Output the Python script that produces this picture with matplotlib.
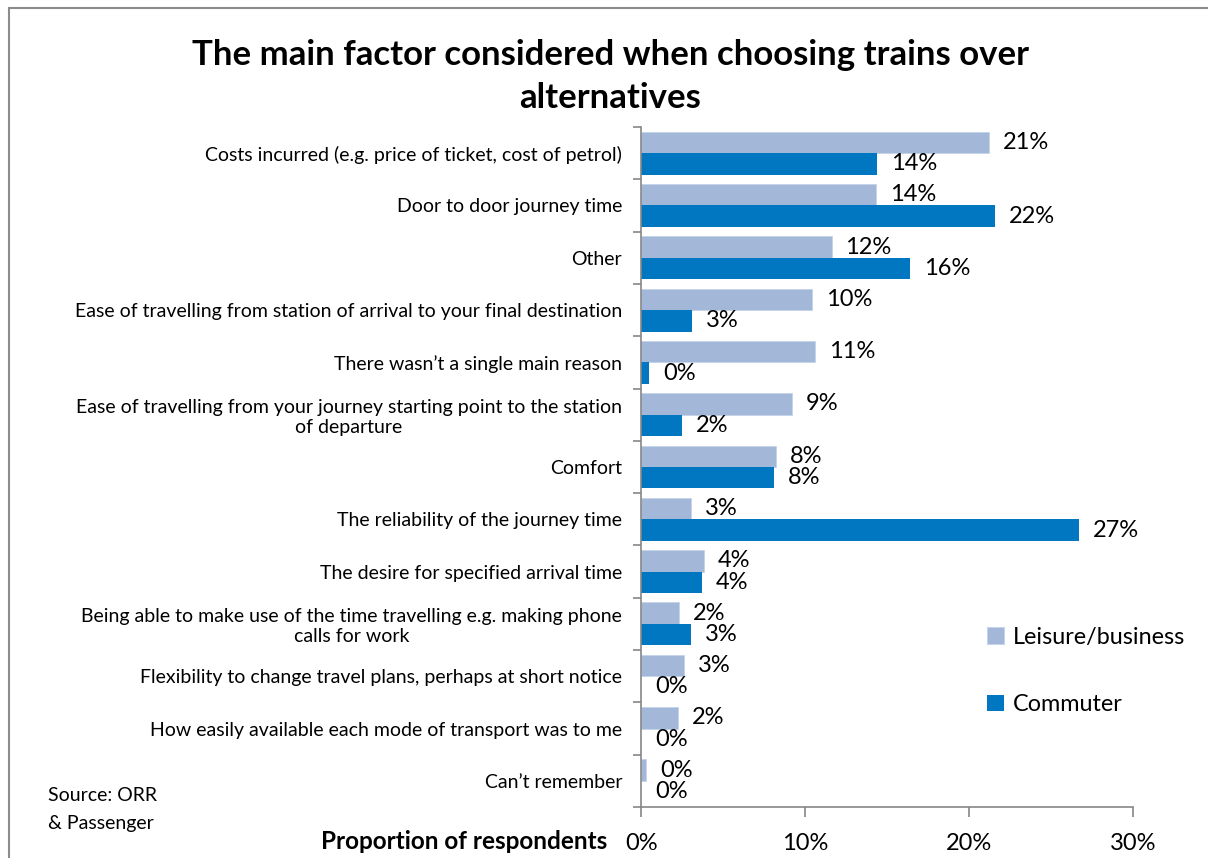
import matplotlib
matplotlib.use("Agg")
import matplotlib.pyplot as plt
from matplotlib.patches import Rectangle
import numpy as np

plt.rcParams['font.family'] = ['Lato', 'DejaVu Sans']

categories = [
    "Costs incurred (e.g. price of ticket, cost of petrol)",
    "Door to door journey time",
    "Other",
    "Ease of travelling from station of arrival to your final destination",
    "There wasn\u2019t a single main reason",
    "Ease of travelling from your journey starting point to the station\nof departure",
    "Comfort",
    "The reliability of the journey time",
    "The desire for specified arrival time",
    "Being able to make use of the time travelling e.g. making phone\ncalls for work",
    "Flexibility to change travel plans, perhaps at short notice",
    "How easily available each mode of transport was to me",
    "Can\u2019t remember",
]
leisure = [21.2, 14.3, 11.6, 10.4, 10.6, 9.2, 8.2, 3.0, 3.8, 2.3, 2.6, 2.2, 0.3]
commuter = [14.4, 21.6, 16.4, 3.1, 0.45, 2.5, 8.1, 26.7, 3.7, 3.0, 0.0, 0.0, 0.0]
series_names = ["Leisure/business", "Commuter"]
xticks = [0, 10, 20, 30]

c_leis = "#A3B7D9"
c_comm = "#0077C0"
axis_col = "#868686"

fig = plt.figure(figsize=(12.08, 8.58), dpi=100)
ax = fig.add_axes([0.531, 0.0594, 0.407, 0.7926])

n = len(categories)
y = np.arange(n)
h = 0.41
b1 = ax.barh(y - h / 2, leisure, height=h, color=c_leis, edgecolor="#C5D3EA", linewidth=0.6,
             label=series_names[0])
b2 = ax.barh(y + h / 2, commuter, height=h, color=c_comm, label=series_names[1])

off = 0.85
for yi, v in zip(y, leisure):
    ax.text(v + off, yi - h / 2, f"{v:.0f}%", va="center", ha="left", fontsize=17)
for yi, v in zip(y, commuter):
    ax.text(v + off, yi + h / 2, f"{v:.0f}%", va="center", ha="left", fontsize=17)

ax.set_xlim(0, 30)
ax.set_ylim(n - 0.5, -0.5)
ax.set_xticks(xticks)
ax.set_xticklabels([f"{t}%" for t in xticks], fontsize=17)
ax.tick_params(axis="x", length=7, color=axis_col, pad=12, width=1.2)

# category ticks sit between groups, labels at group centres
ax.set_yticks(np.arange(-0.5, n, 1.0))
ax.set_yticklabels([])
ax.set_yticks(y, minor=True)
ax.set_yticklabels(categories, minor=True, fontsize=14, multialignment="center")
ax.tick_params(axis="y", which="major", length=6, color=axis_col, width=1.2)
ax.tick_params(axis="y", which="minor", length=0, pad=14)

for s in ["top", "right"]:
    ax.spines[s].set_visible(False)
for s in ["left", "bottom"]:
    ax.spines[s].set_color(axis_col)
    ax.spines[s].set_linewidth(1.2)

fig.text(0.505, 0.911, "The main factor considered when choosing trains over\nalternatives",
         ha="center", va="center", fontsize=25, fontweight="bold", linespacing=1.4)

fig.text(0.503, 0.019, "Proportion of respondents", ha="right", va="center",
         fontsize=17.5, fontweight="bold")
fig.text(0.04, 0.0565, "Source: ORR\n& Passenger", ha="left", va="center",
         fontsize=14, linespacing=1.85)

fig.legend(handles=[b1, b2], loc="center left", bbox_to_anchor=(0.8, 0.218),
           frameon=False, fontsize=16.8, labelspacing=2.0, handlelength=0.7,
           handleheight=0.7, handletextpad=0.4)

fig.patches.append(Rectangle((0.0075, -0.02), 1.2, 1.0107, transform=fig.transFigure,
                             fill=False, edgecolor="#8C8C8C", linewidth=1.5))

fig.savefig("out.png", dpi=100)
